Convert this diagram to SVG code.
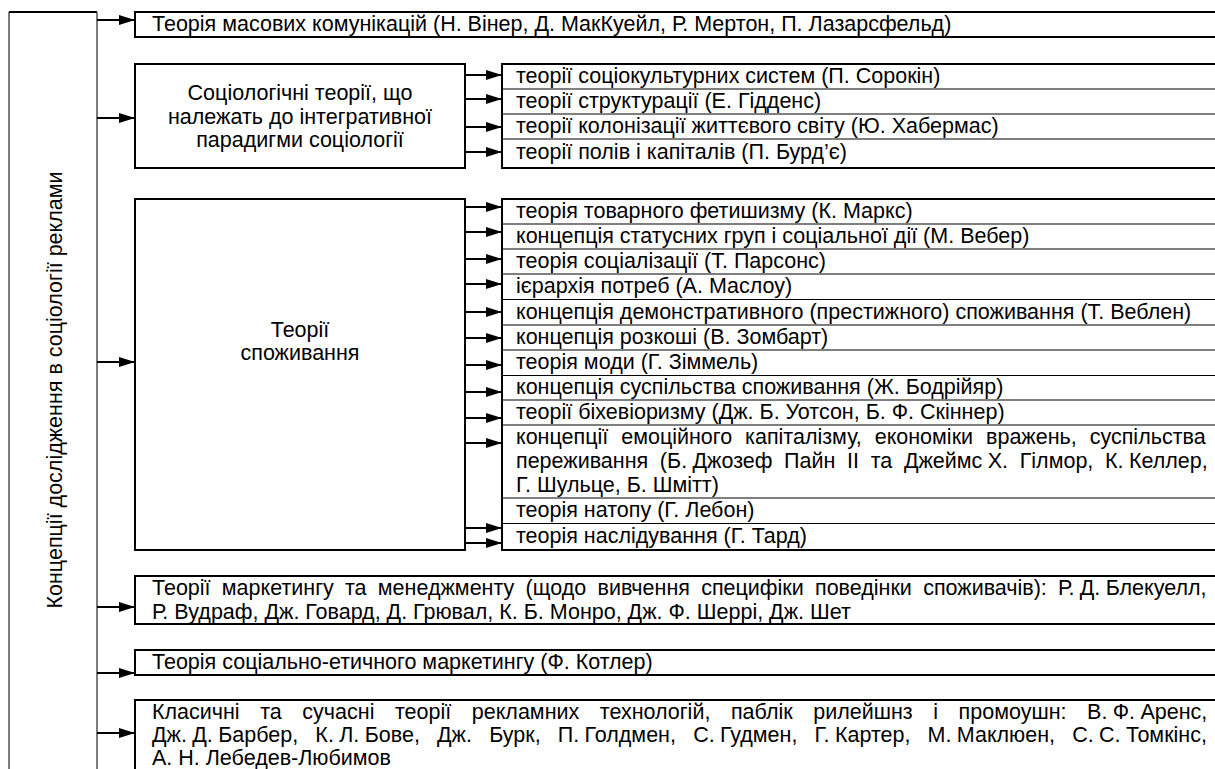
<svg xmlns="http://www.w3.org/2000/svg" width="1215" height="769" viewBox="0 0 1215 769">
<style>
text{font-family:"Liberation Sans",Arial,sans-serif;font-size:21.5px;fill:#000}
.box{fill:#fff;stroke:#000;stroke-width:2}
.sep{stroke:#000;stroke-width:1.2}
.ln{stroke:#000;stroke-width:1.8;fill:none}
.col{stroke:#444;stroke-width:1.4;fill:none}
.mid{text-anchor:middle}
</style>
<defs>
<marker id="ah" markerUnits="userSpaceOnUse" markerWidth="16" markerHeight="11" refX="16" refY="5.5" orient="auto">
<path d="M0,0.5 L16,5.5 L0,10.5 z" fill="#000"/>
</marker>
</defs>
<g id="root">
<path class="col" d="M9,769 V12"/>
<path class="ln" d="M9,12 H97" stroke-width="2"/>
<text transform="translate(62,390) rotate(-90)" class="mid">Концепції дослідження в соціології реклами</text>
</g>
<g id="connectors">
<path class="col" d="M97,12 V769"/>
<g class="ln" marker-end="url(#ah)">
<path d="M97,20 H135"/>
<path d="M97,118 H135"/>
<path d="M97,362 H135"/>
<path d="M97,607 H135"/>
<path d="M97,673 H135"/>
<path d="M97,733 H135"/>
<path d="M465,75 H502"/>
<path d="M465,99 H502"/>
<path d="M465,127 H502"/>
<path d="M465,152 H502"/>
<path d="M465,207 H502"/>
<path d="M465,232 H502"/>
<path d="M465,259 H502"/>
<path d="M465,284 H502"/>
<path d="M465,312 H502"/>
<path d="M465,338 H502"/>
<path d="M465,365 H502"/>
<path d="M465,392 H502"/>
<path d="M465,418 H502"/>
<path d="M465,443 H502"/>
<path d="M465,528 H502"/>
<path d="M465,543 H502"/>
</g>
</g>
<g id="n1">
<rect class="box" x="135" y="12" width="1090" height="25"/>
<text x="152" y="31">Теорія масових комунікацій (Н. Вінер, Д. МакКуейл, Р. Мертон, П. Лазарсфельд)</text>
</g>
<g id="n2">
<rect class="box" x="135" y="64" width="330" height="104"/>
<text class="mid" x="300" y="100">Соціологічні теорії, що</text>
<text class="mid" x="300" y="124">належать до інтегративної</text>
<text class="mid" x="300" y="147">парадигми соціології</text>
</g>
<g id="n2list">
<rect class="box" x="502" y="64" width="723" height="104"/>
<path class="sep" d="M502,89 H1215 M502,114 H1215 M502,139 H1215"/>
<text x="516" y="83">теорії соціокультурних систем (П. Сорокін)</text>
<text x="516" y="108">теорії структурації (Е. Гідденс)</text>
<text x="516" y="133">теорії колонізації життєвого світу (Ю. Хабермас)</text>
<text x="516" y="159">теорії полів і капіталів (П. Бурд’є)</text>
</g>
<g id="n3">
<rect class="box" x="135" y="199" width="330" height="351"/>
<text class="mid" x="300" y="337">Теорії</text>
<text class="mid" x="300" y="360">споживання</text>
</g>
<g id="n3list">
<rect class="box" x="502" y="199" width="723" height="351"/>
<path class="sep" d="M502,224 H1215 M502,249 H1215 M502,274 H1215 M502,299.5 H1215 M502,325 H1215 M502,350 H1215 M502,375.5 H1215 M502,400 H1215 M502,425 H1215 M502,498 H1215 M502,523.5 H1215"/>
<text x="516" y="218">теорія товарного фетишизму (К. Маркс)</text>
<text x="516" y="243">концепція статусних груп і соціальної дії (М. Вебер)</text>
<text x="516" y="268">теорія соціалізації (Т. Парсонс)</text>
<text x="516" y="293">ієрархія потреб (А. Маслоу)</text>
<text x="516" y="319">концепція демонстративного (престижного) споживання (Т. Веблен)</text>
<text x="516" y="344">концепція розкоші (В. Зомбарт)</text>
<text x="516" y="369">теорія моди (Г. Зіммель)</text>
<text x="516" y="394">концепція суспільства споживання (Ж. Бодрійяр)</text>
<text x="516" y="419">теорії біхевіоризму (Дж. Б. Уотсон, Б. Ф. Скіннер)</text>
<text x="516" y="444" word-spacing="7">концепції емоційного капіталізму, економіки вражень, суспільства</text>
<text x="516" y="468" word-spacing="5.7">переживання (Б.&#x2005;Джозеф Пайн ІІ та Джеймс&#x2005;Х. Гілмор, К.&#x2005;Келлер,</text>
<text x="516" y="492">Г. Шульце, Б. Шмітт)</text>
<text x="516" y="517">теорія натопу (Г. Лебон)</text>
<text x="516" y="543">теорія наслідування (Г. Тард)</text>
</g>
<g id="n4">
<rect class="box" x="135" y="576" width="1090" height="48"/>
<text x="152" y="595" word-spacing="5.3">Теорії маркетингу та менеджменту (щодо вивчення специфіки поведінки споживачів): Р.&#x2005;Д.&#x2005;Блекуелл,</text>
<text x="152" y="619">Р. Вудраф, Дж. Говард, Д. Грювал, К. Б. Монро, Дж. Ф. Шеррі, Дж. Шет</text>
</g>
<g id="n5">
<rect class="box" x="135" y="650" width="1090" height="25"/>
<text x="152" y="669">Теорія соціально-етичного маркетингу (Ф. Котлер)</text>
</g>
<g id="n6">
<rect class="box" x="135" y="700" width="1090" height="80"/>
<text x="152" y="719" word-spacing="14.6">Класичні та сучасні теорії рекламних технологій, паблік рилейшнз і промоушн: В.&#x2005;Ф.&#x2005;Аренс,</text>
<text x="152" y="742" word-spacing="11.2">Дж.&#x2005;Д.&#x2005;Барбер, К.&#x2005;Л.&#x2005;Бове, Дж. Бурк, П.&#x2005;Голдмен, С.&#x2005;Гудмен, Г.&#x2005;Картер, М.&#x2005;Маклюен, С.&#x2005;С.&#x2005;Томкінс,</text>
<text x="152" y="765">А. Н. Лебедев-Любимов</text>
</g>
</svg>
